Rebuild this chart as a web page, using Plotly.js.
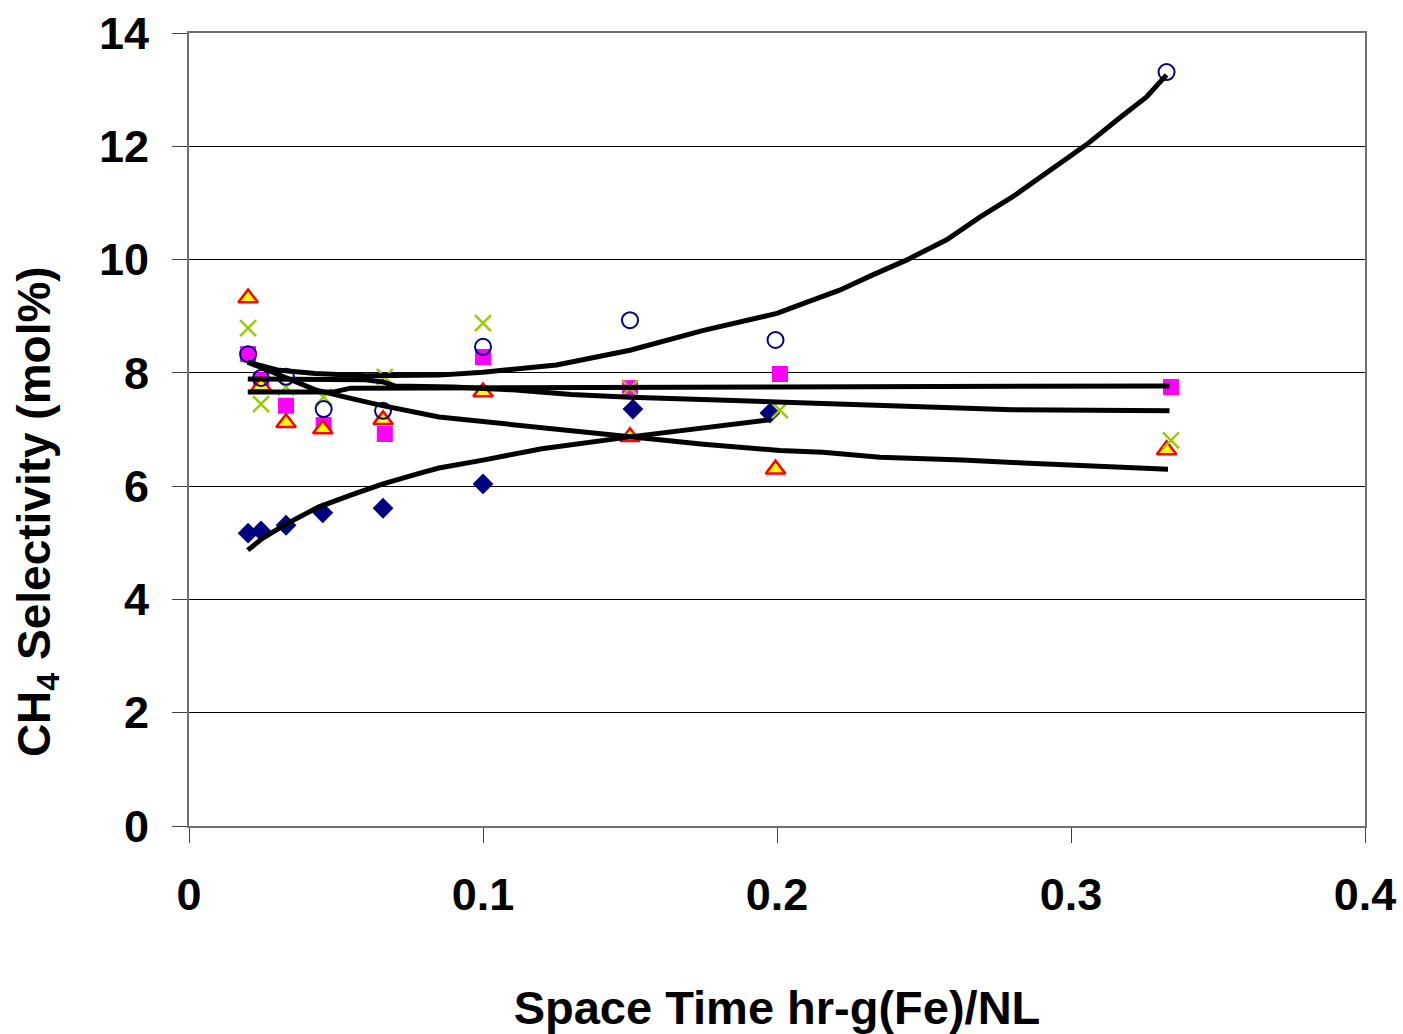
<!DOCTYPE html>
<html>
<head>
<meta charset="utf-8">
<script src="https://cdn.plot.ly/plotly-3.0.1.min.js"></script>
<style>html,body{margin:0;padding:0;background:#fff;}#chart{width:1403px;height:1034px;}</style>
</head>
<body>
<div id="chart"></div>
<script>
// Measured points
const diamondX = [0.0201, 0.0245, 0.0330, 0.0455, 0.0660, 0.1000, 0.1510, 0.1976];
const diamondY = [5.17, 5.21, 5.31, 5.53, 5.61, 6.04, 7.36, 7.29];

const squareX = [0.0201, 0.0245, 0.0330, 0.0458, 0.0666, 0.1000, 0.1500, 0.2010, 0.3340];
const squareY = [8.33, 7.87, 7.42, 7.08, 6.92, 8.28, 7.73, 7.98, 7.75];

const triangleX = [0.0201, 0.0245, 0.0330, 0.0455, 0.0660, 0.1000, 0.1500, 0.1995, 0.3325];
const triangleY = [9.32, 7.77, 7.12, 7.01, 7.17, 7.66, 6.87, 6.30, 6.64];

const crossX = [0.0201, 0.0245, 0.0330, 0.0458, 0.0666, 0.1000, 0.1500, 0.2010, 0.3340];
const crossY = [8.79, 7.45, 7.75, 7.57, 7.93, 8.88, 7.73, 7.34, 6.81];

const circleX = [0.0201, 0.0245, 0.0330, 0.0458, 0.0660, 0.1000, 0.1500, 0.1995, 0.3325];
const circleY = [8.33, 7.91, 7.93, 7.36, 7.33, 8.46, 8.93, 8.58, 13.31];

// Model curves
const fitRiseX = [0.020, 0.025, 0.033, 0.044, 0.055, 0.066, 0.078, 0.085, 0.100, 0.120, 0.150, 0.175, 0.1976];
const fitRiseY = [4.87, 5.08, 5.33, 5.63, 5.84, 6.04, 6.22, 6.32, 6.46, 6.66, 6.87, 7.02, 7.17];

const fitDeclineX = [0.020, 0.033, 0.043, 0.055, 0.065, 0.085, 0.106, 0.130, 0.150, 0.175, 0.201, 0.2156, 0.235, 0.2485, 0.263, 0.2837, 0.303, 0.310, 0.333];
const fitDeclineY = [8.19, 7.90, 7.70, 7.55, 7.43, 7.22, 7.11, 6.97, 6.87, 6.74, 6.63, 6.60, 6.51, 6.49, 6.46, 6.41, 6.37, 6.34, 6.30];

const fitSlowX = [0.020, 0.060, 0.066, 0.070, 0.090, 0.110, 0.130, 0.150, 0.180, 0.201, 0.212, 0.242, 0.280, 0.3335];
const fitSlowY = [7.89, 7.88, 7.84, 7.77, 7.75, 7.70, 7.62, 7.57, 7.52, 7.48, 7.46, 7.40, 7.35, 7.33];

const fitFlatX = [0.020, 0.049, 0.055, 0.100, 0.200, 0.3335];
const fitFlatY = [7.66, 7.66, 7.73, 7.74, 7.75, 7.77];

const fitUpX = [0.020, 0.030, 0.043, 0.060, 0.085, 0.100, 0.125, 0.150, 0.175, 0.200, 0.2077, 0.2213, 0.2326, 0.244, 0.2577, 0.269, 0.2802, 0.2938, 0.3053, 0.3165, 0.3257, 0.3325];
const fitUpY = [8.19, 8.05, 7.99, 7.95, 7.96, 8.01, 8.14, 8.40, 8.75, 9.05, 9.20, 9.46, 9.73, 9.99, 10.35, 10.75, 11.11, 11.62, 12.03, 12.50, 12.87, 13.26];

const xTitle = 'Space Time hr-g(Fe)/NL';
const yTitle = 'CH<sub>4</sub> Selectivity (mol%)';

const FONT = 'Liberation Sans, Arial, Helvetica, sans-serif';

function markerTrace(x, y, marker) {
  return {x: x, y: y, type: 'scatter', mode: 'markers', marker: marker, hoverinfo: 'x+y', showlegend: false};
}
function lineTrace(x, y) {
  return {x: x, y: y, type: 'scatter', mode: 'lines', line: {color: '#000000', width: 5}, hoverinfo: 'skip', showlegend: false};
}

const data = [
  markerTrace(diamondX, diamondY, {symbol: 'diamond', size: 16, color: '#000080'}),
  markerTrace(squareX, squareY, {symbol: 'square', size: 16, color: '#FF00FF'}),
  markerTrace(triangleX, triangleY, {symbol: 'triangle-up', size: 17, color: '#FFFF00', line: {color: '#FF0000', width: 2.5}}),
  markerTrace(crossX, crossY, {symbol: 'x-thin-open', size: 16, color: '#99CC00', line: {color: '#99CC00', width: 2.5}}),
  markerTrace(circleX, circleY, {symbol: 'circle-open', size: 16, color: '#000080', line: {color: '#000080', width: 2}}),
  lineTrace(fitRiseX, fitRiseY),
  lineTrace(fitDeclineX, fitDeclineY),
  lineTrace(fitSlowX, fitSlowY),
  lineTrace(fitFlatX, fitFlatY),
  lineTrace(fitUpX, fitUpY)
];

const layout = {
  width: 1403,
  height: 1034,
  margin: {l: 189, r: 38, t: 33, b: 208},
  paper_bgcolor: '#ffffff',
  plot_bgcolor: '#ffffff',
  font: {family: FONT, color: '#000000', size: 45, weight: 'bold'},
  showlegend: false,
  xaxis: {
    range: [0, 0.4],
    dtick: 0.1,
    tick0: 0,
    showgrid: false,
    zeroline: false,
    showline: true,
    linecolor: '#707070',
    linewidth: 2,
    mirror: true,
    ticks: 'outside',
    ticklen: 15,
    tickwidth: 1,
    tickcolor: '#404040',
    ticklabelstandoff: 13,
    tickfont: {family: FONT, size: 45, color: '#000000', weight: 'bold'},
    title: {text: xTitle, font: {family: FONT, size: 47, color: '#000000', weight: 'bold'}, standoff: 83}
  },
  yaxis: {
    range: [0, 14],
    dtick: 2,
    tick0: 0,
    showgrid: true,
    gridcolor: '#000000',
    gridwidth: 1,
    zeroline: false,
    showline: true,
    linecolor: '#707070',
    linewidth: 2,
    mirror: true,
    ticks: 'outside',
    ticklen: 15,
    tickwidth: 1,
    tickcolor: '#404040',
    ticklabelstandoff: 14,
    tickfont: {family: FONT, size: 45, color: '#000000', weight: 'bold'}
  },
  annotations: [{
    text: yTitle,
    xref: 'paper', yref: 'paper',
    x: -0.1293, y: 0.397,
    xanchor: 'center', yanchor: 'middle',
    textangle: -90,
    showarrow: false,
    font: {family: FONT, size: 46, color: '#000000', weight: 'bold'}
  }]
};

Plotly.newPlot('chart', data, layout, {displayModeBar: false, responsive: false});
</script>
</body>
</html>
